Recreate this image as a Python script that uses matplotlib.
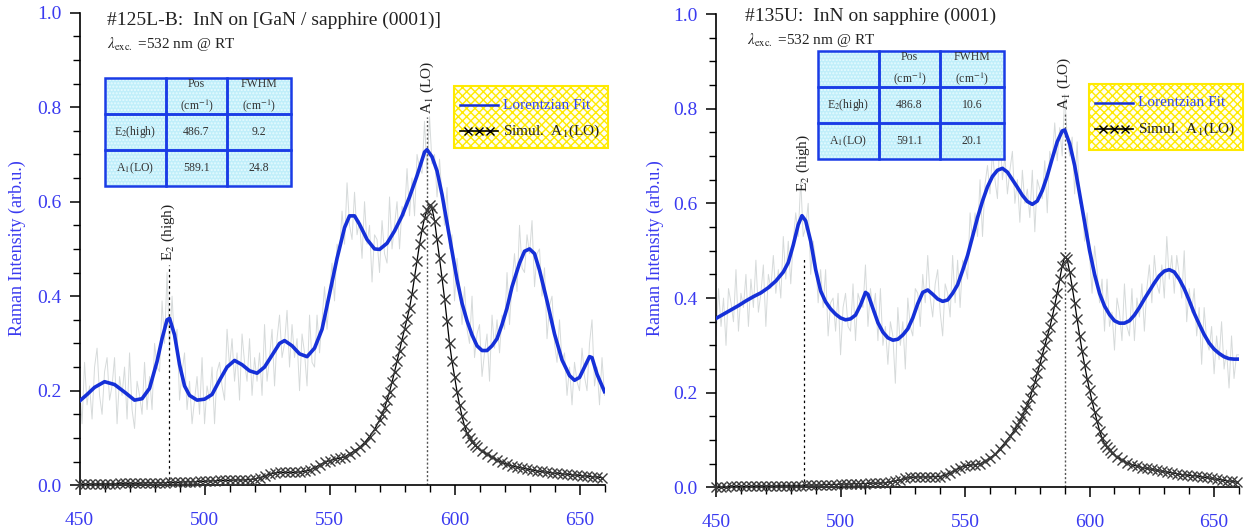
import numpy as np
import matplotlib.pyplot as plt
from matplotlib.patches import Rectangle
from matplotlib.lines import Line2D
from matplotlib.ticker import MultipleLocator

plt.rcParams['font.family'] = ['Liberation Serif', 'DejaVu Serif']
plt.rcParams['mathtext.fontset'] = 'stix'

# ---------------- data ----------------
raw_x = np.arange(450, 661)

raw_left = [
    .21, .13, .26, .17, .21, .14, .25, .29, .19, .15, .24, .27, .18, .21, .27, .13, .23, .19, .25, .14,
    .28, .16, .12, .22, .19, .15, .26, .16, .23, .16, .30, .25, .24, .39, .30, .45, .29, .40, .30, .33,
    .18, .24, .28, .16, .22, .13, .18, .23, .15, .27, .13, .21, .18, .25, .13, .24, .26, .21, .18, .33,
    .25, .31, .22, .28, .18, .32, .26, .22, .31, .19, .27, .22, .28, .19, .34, .22, .27, .33, .21, .31,
    .36, .27, .30, .37, .25, .34, .27, .31, .20, .32, .28, .21, .36, .26, .25, .36, .28, .35, .42, .33,
    .41, .47, .39, .51, .49, .58, .51, .64, .55, .52, .62, .53, .56, .48, .60, .51, .55, .43, .53, .52,
    .45, .56, .49, .47, .61, .50, .55, .60, .50, .59, .57, .67, .57, .65, .57, .70, .67, .66, .77, .66,
    .78, .68, .70, .61, .69, .61, .55, .63, .50, .53, .39, .48, .42, .34, .42, .33, .30, .40, .27, .32,
    .34, .23, .28, .32, .22, .36, .29, .35, .28, .36, .33, .45, .34, .43, .49, .41, .55, .46, .45, .53,
    .49, .56, .42, .49, .50, .40, .46, .31, .38, .40, .30, .26, .35, .26, .28, .19, .25, .17, .26, .22,
    .20, .29, .23, .20, .30, .35, .21, .25, .17, .27, .19]

raw_right = [
    .32, .42, .34, .40, .30, .42, .39, .35, .46, .33, .41, .38, .45, .34, .44, .38, .48, .37, .41, .47,
    .34, .45, .42, .49, .41, .46, .40, .53, .44, .52, .43, .52, .58, .53, .65, .53, .55, .60, .45, .52,
    .48, .39, .46, .38, .46, .32, .39, .40, .33, .41, .28, .38, .41, .34, .33, .43, .31, .41, .39, .38,
    .47, .34, .42, .37, .41, .31, .42, .30, .34, .26, .35, .32, .22, .38, .30, .35, .25, .40, .34, .32,
    .42, .41, .34, .45, .39, .49, .40, .36, .43, .46, .37, .32, .43, .41, .36, .49, .39, .48, .38, .48,
    .47, .44, .58, .52, .58, .53, .65, .53, .64, .68, .62, .71, .65, .61, .75, .65, .70, .62, .67, .71,
    .60, .65, .56, .67, .60, .63, .57, .67, .54, .65, .63, .61, .69, .58, .71, .69, .77, .69, .76, .70,
    .83, .74, .70, .74, .62, .73, .60, .60, .52, .58, .49, .41, .51, .46, .39, .44, .33, .44, .34, .37,
    .29, .40, .37, .31, .43, .34, .32, .42, .31, .40, .36, .43, .33, .42, .47, .39, .49, .43, .41, .47,
    .40, .53, .44, .49, .41, .49, .45, .40, .50, .35, .42, .37, .42, .32, .38, .26, .38, .31, .29, .34,
    .24, .32, .27, .35, .25, .29, .21, .32, .23, .28, .28]

fit_left_x = [450, 453, 456, 460, 464, 468, 472, 475, 478, 481, 483, 485, 486, 488, 490, 492, 494, 497,
              500, 503, 506, 509, 512, 515, 518, 521, 524, 527, 530, 532, 535, 538, 541, 544, 547, 550,
              553, 556, 558, 560, 562, 565, 568, 570, 573, 576, 579, 582, 585, 588, 589, 591, 593, 595,
              597, 599, 601, 603, 605, 607, 609, 611, 613, 615, 617, 619, 621, 623, 626, 628, 630, 632,
              634, 637, 640, 643, 646, 648, 650, 652, 654, 655, 657, 660]
fit_left_y = [.178, .192, .207, .219, .213, .197, .180, .183, .205, .262, .310, .350, .353, .318, .255,
              .210, .190, .180, .182, .192, .222, .250, .264, .255, .242, .237, .250, .275, .300, .306,
              .295, .278, .272, .290, .330, .405, .480, .545, .570, .570, .552, .520, .500, .499, .512,
              .538, .570, .610, .655, .705, .710, .695, .665, .615, .555, .495, .435, .385, .348, .318,
              .295, .285, .285, .295, .310, .340, .375, .420, .470, .495, .500, .490, .455, .390, .320,
              .265, .232, .222, .228, .250, .272, .270, .235, .198]

fit_right_x = [450, 453, 456, 459, 462, 465, 468, 471, 474, 477, 479, 481, 483, 484.5, 486, 488, 490, 492,
               494, 496, 498, 500, 502, 504, 506, 508, 510, 511, 513, 515, 517, 519, 521, 523, 525, 527,
               529, 531, 533, 535, 537, 539, 541, 543, 545, 547, 549, 551, 553, 555, 557, 559, 561, 563,
               565, 567, 569, 571, 573, 575, 577, 579, 581, 583, 585, 587, 589, 590, 592, 594, 596, 598,
               600, 602, 604, 606, 608, 610, 612, 614, 616, 618, 620, 622, 624, 626, 628, 630, 632, 634,
               636, 638, 640, 642, 644, 646, 648, 650, 652, 654, 656, 658, 660]
fit_right_y = [.357, .366, .375, .384, .394, .403, .411, .422, .436, .455, .475, .512, .555, .574, .563,
               .520, .460, .415, .392, .377, .366, .358, .354, .356, .364, .385, .412, .408, .378, .348,
               .328, .316, .311, .313, .322, .335, .358, .388, .412, .417, .408, .398, .393, .396, .410,
               .428, .458, .490, .530, .570, .605, .635, .657, .670, .674, .666, .650, .634, .617, .604,
               .598, .605, .627, .658, .695, .730, .753, .755, .726, .680, .620, .560, .500, .450, .410,
               .383, .365, .352, .347, .347, .352, .364, .380, .398, .415, .432, .447, .457, .460, .455,
               .440, .420, .395, .368, .345, .323, .305, .292, .283, .276, .272, .271, .271]

sim_x = np.concatenate([np.arange(450, 571, 2), np.arange(571, 610), np.arange(611, 660, 2)])
sim_left = [
    .002, .002, .002, .003, .003, .003, .003, .003, .004, .004, .004, .004, .004, .005, .005, .005,
    .005, .005, .006, .006, .006, .007, .007, .007, .008, .008, .009, .009, .010, .010, .010, .011,
    .011, .011, .012, .013, .016, .019, .023, .026, .027, .027, .027, .027, .028, .029, .032, .037,
    .043, .048, .052, .055, .057, .060, .066, .073, .080, .090, .103, .118, .138,
    .150, .163, .180, .198, .218, .240, .262, .285, .308, .330, .352, .375, .405, .440, .475, .510,
    .540, .565, .582, .592, .586, .560, .520, .480, .438, .395, .348, .300, .262, .230, .198, .170,
    .146, .125, .110, .100, .092, .086, .080,
    .072, .066, .059, .053, .048, .044, .041, .038, .036, .034, .032, .030, .029, .027, .026, .025,
    .024, .023, .022, .021, .020, .019, .018, .017, .016]
sim_right = [
    .001, .001, .001, .002, .002, .002, .002, .002, .003, .003, .003, .003, .003, .004, .004, .004,
    .004, .004, .005, .005, .005, .005, .006, .006, .006, .007, .007, .007, .008, .008, .008, .009,
    .009, .009, .010, .012, .014, .016, .019, .021, .022, .022, .022, .022, .023, .023, .026, .031,
    .036, .042, .046, .047, .048, .050, .055, .062, .070, .082, .094, .108, .122,
    .131, .140, .151, .163, .175, .188, .205, .222, .241, .260, .280, .300, .319, .338, .360, .385,
    .410, .440, .468, .487, .482, .455, .424, .390, .355, .320, .288, .258, .230, .205, .182, .160,
    .140, .120, .104, .092, .085, .078, .073,
    .064, .058, .052, .048, .045, .042, .040, .038, .036, .034, .032, .031, .029, .027, .026, .025,
    .024, .022, .021, .019, .017, .016, .014, .013, .011]

titles = ['#125L-B:  InN on [GaN / sapphire (0001)]', '#135U:  InN on sapphire (0001)']
table_rows = [
    [['', 'Pos\n(cm$^{-1}$)', 'FWHM\n(cm$^{-1}$)'],
     ['E$_2$(high)', '486.7', '9.2'],
     ['A$_1$(LO)', '589.1', '24.8']],
    [['', 'Pos\n(cm$^{-1}$)', 'FWHM\n(cm$^{-1}$)'],
     ['E$_2$(high)', '486.8', '10.6'],
     ['A$_1$(LO)', '591.1', '20.1']],
]
e2_pos = [485.6, 485.2]
a1_pos = [589.1, 590.0]

# ---------------- figure ----------------
W, H = 1249, 531
fig = plt.figure(figsize=(W / 100, H / 100), dpi=100)


def fx(x):
    return x / W


def fy(y):
    return 1 - y / H


BLUE = '#1530d8'
TICKBLUE = '#3a3af0'

axes = [fig.add_axes([0.0637, 0.0863, 0.4203, 0.8898]),
        fig.add_axes([0.5733, 0.0821, 0.4187, 0.8915])]
raws = [raw_left, raw_right]
fits = [(fit_left_x, fit_left_y), (fit_right_x, fit_right_y)]
sims = [sim_left, sim_right]
e2_top = [0.465, 0.487]
e2_lab = [0.475, 0.625]
a1_top = [0.78, 0.79]
a1_lab = [0.785, 0.797]

for i, ax in enumerate(axes):
    ax.plot(raw_x, raws[i], color='#d6dada', lw=0.7, zorder=1)
    ax.plot(fits[i][0], fits[i][1], color=BLUE, lw=2.6, zorder=3)
    ax.plot(sim_x, sims[i], color='black', lw=0.9, marker='x', ms=7.5, mec='#3a3a3a',
            mew=1.0, zorder=4, clip_on=False)
    ax.plot([e2_pos[i]] * 2, [0, e2_top[i]], color='black', lw=0.9, ls=(0, (2, 2.5)), zorder=2)
    ax.plot([a1_pos[i]] * 2, [0, a1_top[i]], color='#555555', lw=1.0, ls=(0, (1.5, 1.5)), zorder=2)
    ax.text(e2_pos[i], e2_lab[i], 'E$_2$ (high)', rotation=90, ha='center', va='bottom',
            fontsize=11, color='#222222')
    ax.text(a1_pos[i], a1_lab[i], 'A$_1$ (LO)', rotation=90, ha='center', va='bottom',
            fontsize=11, color='#222222')

    ax.set_xlim(450, 660)
    ax.set_ylim(0, 1.0)
    ax.xaxis.set_major_locator(MultipleLocator(50))
    ax.xaxis.set_minor_locator(MultipleLocator(10))
    ax.yaxis.set_major_locator(MultipleLocator(0.2))
    ax.yaxis.set_minor_locator(MultipleLocator(0.05))
    ax.yaxis.set_major_formatter(lambda v, p: f'{v:.1f}')
    for s in ['top', 'right']:
        ax.spines[s].set_visible(False)
    for s in ['left', 'bottom']:
        ax.spines[s].set_linewidth(1.2)
    ax.tick_params(which='major', direction='out', length=7, width=1.1, labelsize=14,
                   labelcolor=TICKBLUE)
    ax.tick_params(which='minor', direction='out', length=5, width=1.0)
    ax.tick_params(axis='x', which='major', pad=12)
    ax.tick_params(axis='y', which='major', pad=6)
    ax.set_facecolor('none')

# y labels
for xl in [17, 655]:
    fig.text(fx(xl), fy(248), 'Raman Intensity (arb.u.)', rotation=90, ha='center', va='center',
             fontsize=13, color=TICKBLUE)

# titles and excitation line
for (tx, ty), (lx, ly), t in zip([(107, 20), (745, 16)], [(107, 44), (747, 40)], titles):
    fig.text(fx(tx), fy(ty), t, ha='left', va='center', fontsize=14, color='#222222')
    fig.text(fx(lx), fy(ly), r'$\lambda_{\mathrm{exc.}}$ =532 nm @ RT', ha='left', va='center',
             fontsize=11, color='#222222')

# tables
table_x = [[105, 166, 227, 291], [818, 879, 940, 1004]]
table_y = [[78, 114, 150, 186], [51, 87, 123, 159]]
for t in range(2):
    xs, ys = table_x[t], table_y[t]
    fig.add_artist(Rectangle((fx(xs[0]), fy(ys[3])), fx(xs[3] - xs[0]), (ys[3] - ys[0]) / H,
                             transform=fig.transFigure, facecolor='#c0eefa', edgecolor='#e6fbff',
                             hatch='.....', lw=0, zorder=5))
    for r in range(3):
        for c in range(3):
            fig.add_artist(Rectangle((fx(xs[c]), fy(ys[r + 1])), fx(xs[c + 1] - xs[c]),
                                     (ys[r + 1] - ys[r]) / H, transform=fig.transFigure,
                                     facecolor='none', edgecolor='#1a3ce6', lw=1.8, zorder=6))
            fig.text(fx((xs[c] + xs[c + 1]) / 2), fy((ys[r] + ys[r + 1]) / 2), table_rows[t][r][c],
                     ha='center', va='center', fontsize=8.5, color='#333333', zorder=7,
                     linespacing=1.6)

# legends
leg_box = [(454, 86, 608, 148), (1089, 84, 1243, 150)]
for (x0, y0, x1, y1) in leg_box:
    fig.add_artist(Rectangle((fx(x0), fy(y1)), fx(x1 - x0), (y1 - y0) / H, transform=fig.transFigure,
                             facecolor='#fffff0', edgecolor='#ffea00', hatch='xxxx', lw=1.5, zorder=5))
    ya, yb = y0 + 19, y0 + 45
    fig.add_artist(Line2D([fx(x0 + 6), fx(x0 + 44)], [fy(ya)] * 2, color=BLUE, lw=1.8,
                          transform=fig.transFigure, zorder=6))
    fig.add_artist(Line2D([fx(x0 + 6), fx(x0 + 44)], [fy(yb)] * 2, color='black', lw=1.2,
                          transform=fig.transFigure, zorder=6))
    fig.add_artist(Line2D([fx(x0 + 14), fx(x0 + 25), fx(x0 + 36)], [fy(yb)] * 3, color='black',
                          lw=0, marker='x', ms=6, mew=1.0, transform=fig.transFigure, zorder=6))
    fig.text(fx(x0 + 49), fy(ya), 'Lorentzian Fit', ha='left', va='center', fontsize=11,
             color='#3344ee', zorder=7)
    fig.text(fx(x0 + 49), fy(yb), 'Simul.  A$_1$(LO)', ha='left', va='center', fontsize=11,
             color='#222222', zorder=7)

fig.savefig('out.png', dpi=100)
